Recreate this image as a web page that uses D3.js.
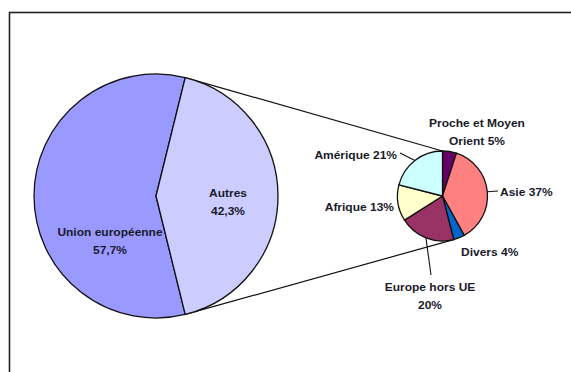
<!DOCTYPE html>
<html>
<head>
<meta charset="utf-8">
<script src="https://cdn.jsdelivr.net/npm/d3@7"></script>
<style>
  body { margin: 0; background: #fff; }
  text { font-family: "Liberation Sans", Arial, sans-serif; font-size: 10px; font-weight: bold; fill: #1a1a2a; }
</style>
</head>
<body>
<div id="chart"></div>
<script>
// Main split: EU vs others
const mainNames = ["Union européenne", "Autres"]
const mainValues = [57.7, 42.3]
const mainLabels = [["Union européenne", "57,7%"], ["Autres", "42,3%"]]

// Breakdown of "Autres"
const subNames = ["Proche et Moyen Orient", "Asie", "Divers", "Europe hors UE", "Afrique", "Amérique"]
const subValues = [5, 37, 4, 20, 13, 21]
const subLabels = [["Proche et Moyen", "Orient 5%"], ["Asie 37%"], ["Divers 4%"], ["Europe hors UE", "20%"], ["Afrique 13%"], ["Amérique 21%"]]

const mainColors = ["#9999ff", "#ccccff"]
const subColors = ["#660066", "#ff8080", "#0066cc", "#993366", "#ffffcc", "#ccffff"]

const W = 571, H = 372

const svg = d3.select("#chart").append("svg")
  .attr("width", W)
  .attr("height", H)

// frame
svg.append("rect")
  .attr("x", 9.5).attr("y", 12.5)
  .attr("width", 700).attr("height", 500)
  .attr("fill", "none")
  .attr("stroke", "#222")
  .attr("stroke-width", 1.6)

// big pie
const big = { cx: 156, cy: 196, r: 122 }
const autresShare = mainValues[1] / d3.sum(mainValues)
const bigStart = Math.PI / 2 + autresShare * Math.PI  // centre "Autres" on the right
const bigPie = d3.pie().sort(null).startAngle(bigStart).endAngle(bigStart + 2 * Math.PI)
const bigArcs = bigPie(mainValues)
const bigArc = d3.arc().innerRadius(0).outerRadius(big.r)

// small pie
const small = { cx: 442.5, cy: 196, r: 45 }
const smallPie = d3.pie().sort(null)
const smallArcs = smallPie(subValues)
const smallArc = d3.arc().innerRadius(0).outerRadius(small.r)

function pt(c, r, a) { return [c.cx + r * Math.sin(a), c.cy - r * Math.cos(a)] }

// connector lines
const autres = bigArcs[1]
const europe = smallArcs[3]
const p1 = pt(big, big.r, autres.startAngle), q1 = pt(small, small.r, 0)
const p2 = pt(big, big.r, autres.endAngle), q2 = pt(small, small.r, europe.startAngle)
svg.append("g").selectAll("line")
  .data([[p1, q1], [p2, q2]])
  .enter().append("line")
  .attr("x1", d => d[0][0]).attr("y1", d => d[0][1])
  .attr("x2", d => d[1][0]).attr("y2", d => d[1][1])
  .attr("stroke", "#111").attr("stroke-width", 1.2)

svg.append("g")
  .attr("transform", "translate(" + big.cx + "," + big.cy + ")")
  .selectAll("path")
  .data(bigArcs)
  .enter().append("path")
  .attr("d", bigArc)
  .attr("fill", (d, i) => mainColors[i])
  .attr("stroke", "#111")
  .attr("stroke-width", 1.3)
  .attr("stroke-linejoin", "round")

svg.append("g")
  .attr("transform", "translate(" + small.cx + "," + small.cy + ")")
  .selectAll("path")
  .data(smallArcs)
  .enter().append("path")
  .attr("d", smallArc)
  .attr("fill", (d, i) => subColors[i])
  .attr("stroke", "#111")
  .attr("stroke-width", 1.3)
  .attr("stroke-linejoin", "round")

// label placement (x, y of first line, anchor, leader end or null)
const mainPos = [
  { x: 110, y: 232, anchor: "middle" },
  { x: 228, y: 193, anchor: "middle" }
]
const subPos = [
  { x: 477, y: 123, anchor: "middle", lead: null },
  { x: 500, y: 192, anchor: "start", lead: [498, 191] },
  { x: 461, y: 252, anchor: "start", lead: null },
  { x: 430, y: 287, anchor: "middle", lead: [431, 275] },
  { x: 394, y: 207, anchor: "end", lead: null },
  { x: 397, y: 155, anchor: "end", lead: [400, 153] }
]

// leader lines from slice mid-angle on the small pie edge
svg.append("g").selectAll("line")
  .data(smallArcs.filter((d, i) => subPos[i].lead))
  .enter().append("line")
  .each(function (d) {
    const i = d.index
    const m = (d.startAngle + d.endAngle) / 2
    const e = pt(small, small.r, m)
    d3.select(this)
      .attr("x1", e[0]).attr("y1", e[1])
      .attr("x2", subPos[i].lead[0]).attr("y2", subPos[i].lead[1])
  })
  .attr("stroke", "#111").attr("stroke-width", 1.1)

function drawLabel(lines, p) {
  const t = svg.append("text")
    .attr("transform", "translate(" + p.x + "," + p.y + ") scale(1.2,1)")
    .attr("text-anchor", p.anchor)
  lines.forEach((s, k) => {
    t.append("tspan").attr("x", 0).attr("y", k * 18.5).attr("dy", "0.35em").text(s)
  })
}

mainLabels.forEach((l, i) => drawLabel(l, mainPos[i]))
subLabels.forEach((l, i) => drawLabel(l, subPos[i]))
</script>
</body>
</html>
